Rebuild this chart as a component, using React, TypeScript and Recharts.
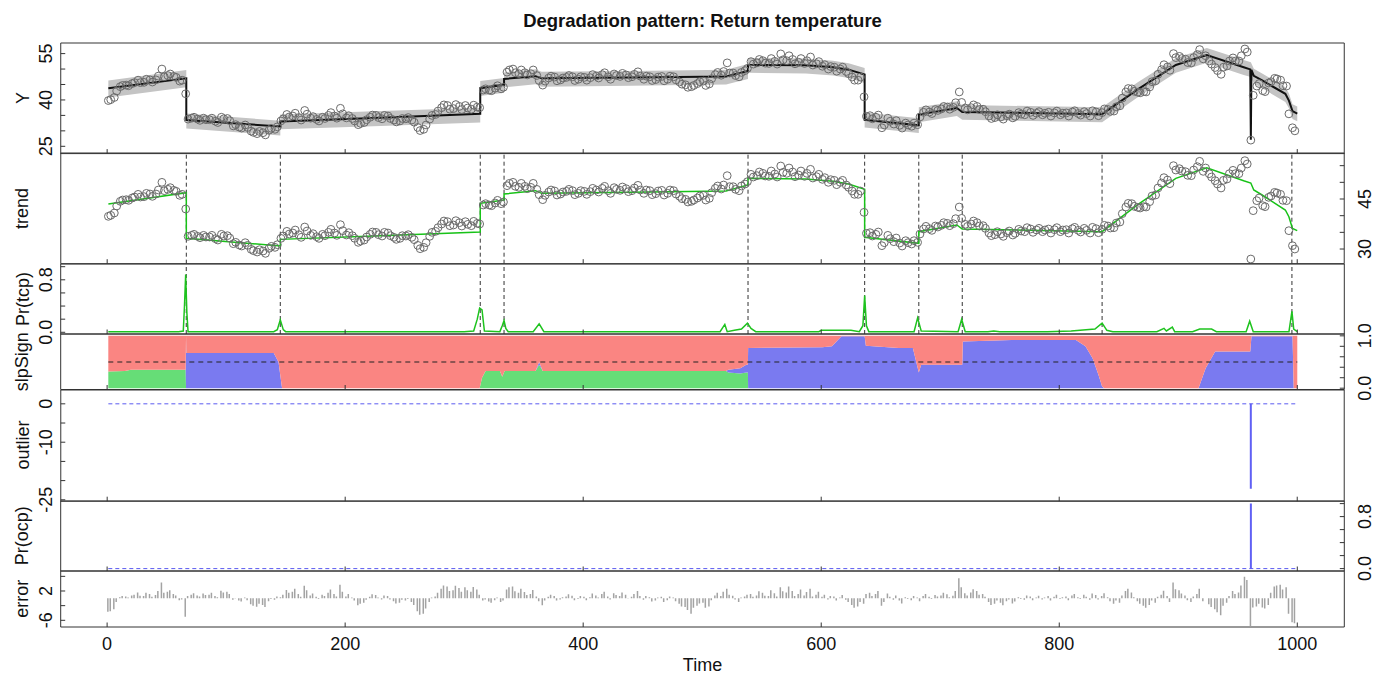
import React from 'react';
import { ComposedChart, Line, Area, Bar, Scatter, XAxis, YAxis, ReferenceLine, ReferenceArea } from 'recharts';

const FONT = '"Liberation Sans", Arial, Helvetica, sans-serif';
const W = 1384;
const H = 676;
const PLOT_L = 60.7;
const PLOT_R = 1344.3;
const X_DOMAIN: [number, number] = [-39, 1039.5];
const X_TICKS = [0, 200, 400, 600, 800, 1000];
const T_START = 1;
const T_END = 1000;

// observed series, sampled at t = 1, 6, 11, ... 996
const obsA = [
  39.8, 40.8, 44.3, 44.8, 45.3, 46.4, 45.7, 46.5, 46.5, 50.0,
  47.9, 47.6, 46.1, 42.0, 34.1, 33.8, 34.1, 33.6, 33.1, 34.4,
  34.0, 31.6, 31.2, 31.9, 29.9, 29.1, 29.4, 30.2, 30.5, 33.2,
  35.3, 34.8, 34.3, 36.6, 34.1, 33.7, 34.4, 35.0, 34.8, 37.3,
  34.2, 34.0, 32.0, 32.7, 34.4, 35.0, 33.9, 34.8, 33.5, 33.2,
  33.9, 33.5, 31.1, 30.5, 33.8, 35.3, 37.5, 38.2, 37.2, 37.9,
  38.2, 37.0, 37.7, 43.2, 43.2, 43.8, 43.6, 49.0, 50.0, 48.5,
  48.8, 48.5, 47.9, 44.8, 47.1, 47.4, 46.5, 47.3, 47.5, 46.7,
  47.3, 47.2, 47.7, 48.2, 47.5, 48.4, 47.6, 48.1, 47.5, 49.1,
  46.7, 47.5, 46.6, 47.6, 46.7, 47.5, 45.8, 44.9, 44.3, 45.3,
  46.1, 45.2, 48.2, 48.0, 52.0, 48.7, 47.5, 49.5, 52.4, 52.0,
  52.7, 51.8, 52.5, 54.9, 52.7, 53.1, 52.2, 51.8, 53.9, 51.7,
  50.9, 50.0, 50.6, 50.0, 49.2, 47.4, 46.4, 41.0, 34.9, 34.4,
  31.0, 34.1, 32.2, 31.8, 32.5, 31.5, 32.0, 36.0, 36.1, 36.9,
  37.1, 37.7, 37.6, 42.6, 37.4, 37.5, 37.9, 37.0, 34.8, 34.3,
  34.5, 34.9, 34.2, 35.9, 35.2, 36.0, 35.7, 35.2, 36.0, 35.8,
  35.2, 35.8, 36.1, 35.6, 36.2, 34.8, 36.1, 35.9, 36.9, 36.4,
  38.1, 42.6, 43.6, 42.5, 42.7, 44.2, 46.2, 49.8, 50.7, 55.0,
  54.1, 53.2, 52.0, 54.7, 53.3, 52.6, 50.5, 48.3, 51.0, 53.6,
  52.6, 56.5, 27.0, 44.5, 43.0, 45.5, 47.0, 46.4, 44.5, 31.0,
];

// observed series, sampled at t = 3, 8, 13, ... 998
const obsB = [
  40.1, 42.9, 44.7, 44.6, 45.6, 45.6, 46.7, 45.8, 47.7, 47.5,
  48.4, 47.3, 46.4, 33.8, 34.4, 33.4, 33.6, 34.1, 32.7, 33.9,
  33.3, 32.0, 30.9, 31.1, 29.5, 29.8, 28.7, 30.8, 31.3, 33.9,
  34.5, 35.7, 33.5, 35.4, 34.6, 33.2, 34.0, 35.9, 34.1, 35.5,
  34.9, 33.2, 32.4, 33.6, 35.1, 34.3, 35.0, 34.0, 32.9, 34.0,
  34.3, 32.8, 30.1, 31.9, 35.0, 36.4, 38.4, 37.0, 38.5, 36.9,
  37.4, 38.3, 37.5, 43.6, 43.0, 44.6, 44.1, 49.7, 48.8, 49.7,
  48.1, 49.7, 46.3, 46.1, 47.7, 46.2, 47.1, 47.9, 46.3, 47.5,
  46.4, 48.2, 47.1, 48.8, 46.7, 47.9, 48.6, 47.2, 48.3, 47.7,
  47.7, 46.3, 47.4, 46.2, 47.7, 46.5, 45.1, 44.1, 44.7, 45.9,
  44.7, 46.9, 48.9, 49.2, 48.7, 47.9, 48.9, 50.2, 51.6, 53.1,
  51.9, 53.4, 51.6, 53.0, 54.3, 51.7, 53.4, 52.7, 51.3, 52.4,
  51.4, 50.8, 49.3, 50.6, 48.5, 46.4, 47.4, 34.7, 33.9, 35.1,
  31.9, 33.1, 33.3, 30.9, 31.9, 32.5, 34.5, 36.8, 35.6, 36.6,
  37.9, 37.0, 39.1, 39.2, 36.8, 38.4, 36.9, 36.2, 34.0, 35.2,
  33.8, 35.4, 34.7, 35.4, 36.4, 35.0, 36.2, 35.7, 34.8, 36.4,
  35.7, 34.8, 36.5, 35.1, 35.6, 36.5, 34.9, 37.1, 36.3, 37.8,
  40.6, 43.7, 42.8, 42.3, 42.6, 45.9, 48.3, 51.4, 49.6, 53.7,
  53.4, 52.1, 53.7, 56.3, 54.3, 51.6, 49.5, 50.6, 52.6, 52.6,
  54.3, 55.5, 41.5, 45.3, 42.7, 45.9, 46.8, 44.6, 35.5, 30.0,
];

// residuals at t = 1, 6, 11, ...
const errA = [
  -3.7, -3.0, 0.3, 0.5, 0.8, 1.6, 0.6, 1.2, 0.9, 4.3,
  1.8, 1.2, -0.5, -5.0, 1.0, 0.8, 1.3, 1.0, 0.6, 2.1,
  1.8, -0.4, -0.6, 0.2, -1.6, -2.3, -1.8, -0.8, -0.4, 0.3,
  2.3, 1.8, 1.2, 3.4, 0.8, 0.4, 1.0, 1.5, 1.2, 3.7,
  0.5, 0.2, -1.9, -1.2, 0.4, 0.9, -0.3, 0.6, -0.8, -1.2,
  -0.6, -1.0, -3.5, -4.2, -1.0, 0.5, 2.6, 3.2, 2.2, 2.8,
  3.0, 1.8, 2.4, -0.6, -0.9, -0.5, -1.0, 2.4, 3.2, 1.5,
  1.7, 1.2, 0.5, -1.9, 0.4, 0.6, -0.3, 0.5, 0.7, -0.2,
  0.4, 0.3, 0.8, 1.2, 0.5, 1.4, 0.6, 1.0, 0.4, 2.0,
  -0.4, 0.3, -0.6, 0.4, -0.5, 0.2, -1.5, -2.4, -4.2, -2.0,
  -1.2, -2.2, 0.8, 0.6, 2.6, 0.7, -1.0, 0.5, 1.2, 0.8,
  1.5, 0.6, 1.4, 3.0, 1.6, 2.0, 1.2, 0.8, 2.6, 1.0,
  0.4, -0.3, 0.5, 0.2, -0.4, -1.8, -2.2, -1.5, 1.5, 1.2,
  -2.0, 1.3, -0.4, -0.6, 0.3, -0.5, 0.2, 0.6, 0.4, 0.9,
  0.8, 1.1, 0.7, 5.5, 1.4, 1.6, 2.0, 1.2, -1.0, -1.5,
  -1.2, -0.8, -1.4, 0.3, -0.4, 0.5, 0.2, -0.3, 0.6, 0.4,
  -0.2, 0.5, 0.8, 0.3, 1.0, -0.4, 0.9, 0.6, 0.3, -1.5,
  -1.2, 2.0, 1.6, -0.8, -2.0, -1.8, -1.2, 1.0, 0.6, 4.3,
  2.2, 0.8, -1.0, 1.2, -0.8, -1.6, -3.0, -4.6, -1.2, 2.0,
  1.6, 5.9, -7.6, -2.2, -2.5, -1.8, 3.2, 3.7, 3.0, -6.5,
];

// residuals at t = 3, 8, 13, ...
const errB = [
  -3.5, -1.0, 0.6, 0.2, 1.0, 0.7, 1.5, 0.4, 2.0, 1.5,
  2.2, 0.8, -0.3, 0.6, 1.4, 0.5, 0.9, 1.5, 0.3, 1.6,
  1.2, 0.1, -0.9, -0.5, -2.0, -1.5, -2.4, -0.2, 0.5, 1.0,
  1.5, 2.6, 0.4, 2.2, 1.3, -0.2, 0.6, 2.4, 0.5, 1.8,
  1.2, -0.6, -1.5, -0.4, 1.1, 0.2, 0.8, -0.3, -1.4, -0.4,
  -0.2, -1.8, -4.5, -2.8, 0.2, 1.5, 3.5, 2.0, 3.4, 1.8,
  2.2, 3.1, 1.0, -0.3, -1.2, 0.2, -0.6, 3.0, 1.9, 2.6,
  0.9, 2.3, -0.8, -0.6, 1.0, -0.6, 0.3, 1.1, -0.5, 0.6,
  -0.5, 1.3, 0.2, 1.8, -0.3, 0.9, 1.6, 0.1, 1.2, 0.6,
  0.6, -0.9, 0.2, -1.0, 0.5, -0.8, -2.2, -3.2, -2.6, -1.4,
  -2.6, -0.5, 1.5, 1.8, 1.0, -0.3, 0.2, 1.0, 0.4, 1.9,
  0.7, 2.2, 0.5, 1.9, 3.2, 0.6, 2.4, 1.7, 0.5, 1.8,
  1.0, 0.6, -0.6, 0.9, -1.0, -2.6, -1.0, 1.2, 0.6, 2.0,
  -1.0, 0.4, 0.8, -1.4, -0.2, 0.6, -0.8, 1.2, -0.2, 0.5,
  1.5, 0.3, 2.0, 3.0, 0.8, 2.5, 1.0, 0.4, -1.8, -0.6,
  -1.9, -0.3, -0.9, -0.2, 0.8, -0.5, 0.7, 0.2, -0.6, 1.0,
  0.3, -0.5, 1.2, -0.2, 0.4, 1.3, -0.3, 1.4, -0.8, -0.6,
  0.8, 2.6, 0.3, -1.5, -2.6, -0.6, 0.4, 2.1, -1.0, 2.5,
  1.3, -0.5, 0.5, 2.6, 0.0, -2.4, -3.8, -2.0, 0.6, 1.2,
  3.5, 5.0, -2.5, -1.5, -2.8, 1.5, 3.5, 2.4, -4.2, -6.8,
];

const timesA = Array.from({ length: obsA.length }, (_, i) => 1 + 5 * i);
const timesB = Array.from({ length: obsB.length }, (_, i) => 3 + 5 * i);

// fitted trend, vertices (repeated t = abrupt change)
const trendT = [1, 66.5, 66.5, 145.5, 145.5, 230, 313.5, 313.5, 333.5, 333.5, 360, 365, 440, 520, 538.5, 538.5, 587, 610, 623, 636.5, 636.5, 682, 682, 714, 718.5, 836, 866, 898, 924, 955, 961, 963.5, 970.5, 990, 993, 996, 1000];
const trendV = [43.5, 46.9, 33.2, 30.9, 32.9, 34.0, 35.1, 43.7, 44.7, 46.5, 47.5, 46.7, 47.0, 47.4, 49.2, 51.2, 51.0, 50.3, 49.5, 47.9, 33.5, 31.7, 35.2, 37.2, 36.0, 35.2, 43.3, 51.2, 54.4, 50.5, 49.8, 47.7, 46.2, 41.7, 39.7, 36.2, 35.5];
const bandLo = [40.8, 44.1, 30.8, 28.5, 30.5, 31.6, 32.7, 41.3, 42.3, 44.1, 45.1, 44.3, 44.6, 45.0, 46.8, 48.8, 48.6, 47.9, 47.1, 45.5, 31.1, 29.3, 32.8, 34.8, 33.6, 32.8, 40.9, 48.8, 52.0, 48.1, 47.4, 45.3, 43.8, 39.3, 37.3, 33.8, 33.1];
const bandHi = [46.3, 49.7, 35.6, 33.3, 35.3, 36.4, 37.5, 46.1, 47.1, 48.9, 49.9, 49.1, 49.4, 49.8, 51.6, 53.6, 53.4, 52.7, 51.9, 50.3, 35.9, 34.1, 37.6, 39.6, 38.4, 37.6, 45.7, 53.6, 56.8, 52.9, 52.2, 50.1, 48.6, 44.1, 42.1, 38.6, 37.9];

// full fit (trend + outlier)
const fittedT = [1, 66.5, 66.5, 145.5, 145.5, 230, 313.5, 313.5, 333.5, 333.5, 360, 365, 440, 520, 538.5, 538.5, 587, 610, 623, 636.5, 636.5, 682, 682, 714, 718.5, 836, 866, 898, 924, 955, 960.5, 961, 961.5, 963.5, 970.5, 990, 993, 996, 1000];
const fittedV = [43.8, 47.0, 33.5, 31.4, 33.0, 34.2, 35.5, 43.8, 44.9, 46.8, 47.7, 47.0, 47.3, 47.6, 49.4, 51.3, 51.2, 50.6, 49.8, 48.2, 33.6, 31.8, 35.3, 37.4, 36.1, 35.4, 43.4, 51.3, 54.5, 50.6, 49.9, 27.1, 49.7, 47.8, 46.3, 42.0, 39.8, 36.4, 35.6];

const changePoints = [66.5, 145.5, 313.5, 333.5, 538.5, 636.5, 682, 718.5, 836, 995.5];

// probability of a trend changepoint
const tcpT = [1, 60, 64, 65, 66, 67, 68, 140, 143, 145.5, 148, 150, 300, 308, 311, 313, 315, 317, 330, 332, 333.5, 335, 337, 358, 363, 367, 515, 519, 521, 527, 533, 538, 541, 545, 598, 600, 625, 632, 635, 636.5, 638, 640, 678, 681, 684, 715, 718, 721, 740, 745, 750, 790, 810, 830, 836, 840, 845, 882, 888, 890, 895, 897, 912, 918, 928, 932, 957, 960, 963, 993, 995.5, 997, 1000];
const tcpP = [0.01, 0.01, 0.02, 0.4, 0.88, 0.3, 0.01, 0.01, 0.04, 0.19, 0.04, 0.01, 0.01, 0.02, 0.2, 0.37, 0.34, 0.02, 0.01, 0.1, 0.18, 0.06, 0.01, 0.01, 0.13, 0.01, 0.01, 0.12, 0.01, 0.03, 0.05, 0.14, 0.06, 0.01, 0.01, 0.03, 0.03, 0.01, 0.1, 0.56, 0.1, 0.01, 0.01, 0.22, 0.02, 0.01, 0.2, 0.01, 0.01, 0.02, 0.01, 0.01, 0.02, 0.05, 0.14, 0.03, 0.01, 0.01, 0.06, 0.02, 0.08, 0.01, 0.01, 0.05, 0.05, 0.01, 0.01, 0.17, 0.01, 0.01, 0.32, 0.05, 0.01];

// slope sign probabilities: zero / negative / positive
const slpT = [1, 15, 20, 66, 66.3, 66.6, 140, 144, 147, 313, 315, 318, 330, 332, 334, 360, 363, 366, 520, 522, 532, 537, 538.4, 538.6, 601, 609, 617, 636.5, 637.5, 665, 677, 682, 684, 718.5, 719, 760, 814, 822, 828, 833, 836, 838, 917, 923, 931, 960.5, 961.5, 996, 997, 1000];
const slpZero = [0.32, 0.33, 0.35, 0.35, 0, 0, 0, 0, 0, 0, 0.2, 0.33, 0.33, 0.22, 0.33, 0.33, 0.45, 0.33, 0.33, 0.3, 0.28, 0.3, 0.3, 0, 0, 0, 0, 0, 0, 0, 0, 0, 0, 0, 0, 0, 0, 0, 0, 0, 0, 0, 0, 0, 0, 0, 0, 0, 0, 0];
const slpNeg = [0, 0, 0, 0, 1.0, 0.67, 0.67, 0.5, 0, 0, 0, 0, 0, 0, 0, 0, 0.05, 0, 0, 0.05, 0.1, 0.15, 0.15, 0.77, 0.78, 0.8, 0.99, 0.99, 0.81, 0.77, 0.77, 0.3, 0.45, 0.45, 0.89, 0.92, 0.92, 0.8, 0.57, 0.25, 0.03, 0, 0, 0.38, 0.7, 0.7, 0.99, 0.99, 0, 0];
const slpPos = [0.68, 0.67, 0.65, 0.65, 0, 0.33, 0.33, 0.5, 1, 1, 0.8, 0.67, 0.67, 0.78, 0.67, 0.67, 0.5, 0.67, 0.67, 0.65, 0.62, 0.55, 0.55, 0.23, 0.22, 0.2, 0.01, 0.01, 0.19, 0.23, 0.23, 0.7, 0.55, 0.55, 0.11, 0.08, 0.08, 0.2, 0.43, 0.75, 0.97, 1, 1, 0.62, 0.3, 0.3, 0.01, 0.01, 1, 1];

// outlier component and its probability
const outT = [961];
const outV = [-22.1];
const ocpP = [1.0];

const obsData = [
  ...timesA.map((t, i) => ({ t, v: obsA[i] })),
  ...timesB.map((t, i) => ({ t, v: obsB[i] })),
];
const errData = [
  ...timesA.map((t, i) => ({ t, v: errA[i] })),
  ...timesB.map((t, i) => ({ t, v: errB[i] })),
].sort((a, b) => a.t - b.t);
const trendData = trendT.map((t, i) => ({ t, v: trendV[i] }));
const bandData = trendT.map((t, i) => ({ t, r: [bandLo[i], bandHi[i]] }));
const fittedData = fittedT.map((t, i) => ({ t, v: fittedV[i] }));
const tcpData = tcpT.map((t, i) => ({ t, p: tcpP[i] }));
const slpData = slpT.map((t, i) => ({ t, zero: slpZero[i], neg: slpNeg[i], pos: slpPos[i] }));
const outData = outT.map((t, i) => ({ t, v: outV[i] }));
const ocpData = outT.map((t, i) => ({ t, v: ocpP[i] }));

const xTick = (withLabel: boolean) => (props: any) => {
  const { x, y, payload } = props;
  return (
    <g>
      <line x1={x} x2={x} y1={y} y2={y - 4.5} stroke="#333" strokeWidth={1} />
      {withLabel && (
        <text x={x} y={y + 23.3} textAnchor="middle" fontSize={18} fontFamily={FONT} fill="#111">
          {payload.value}
        </text>
      )}
    </g>
  );
};

const yTick = (side: 'left' | 'right', labels: number[], digits: number) => (props: any) => {
  const { x, y, payload } = props;
  const v = payload.value;
  const lx = side === 'left' ? x - 8.7 : x + 26.5;
  const dx = side === 'left' ? 4.5 : -4.5;
  return (
    <g>
      <line x1={x} x2={x + dx} y1={y} y2={y} stroke="#333" strokeWidth={1} />
      {labels.includes(v) && (
        <text x={lx} y={y} transform={`rotate(-90 ${lx} ${y})`} textAnchor="middle" fontSize={18} fontFamily={FONT} fill="#111">
          {v.toFixed(digits)}
        </text>
      )}
    </g>
  );
};

type PanelProps = {
  top: number;
  bottom: number;
  domain: [number, number];
  ticks: number[];
  labels: number[];
  digits: number;
  side: 'left' | 'right';
  data?: any[];
  showTime?: boolean;
  children?: React.ReactNode;
};

const Panel = ({ top, bottom, domain, ticks, labels, digits, side, data, showTime, children }: PanelProps) => {
  const extra = showTime ? 50 : 0;
  const h = bottom - top + 1 + extra;
  return (
    <div style={{ position: 'absolute', left: 0, top, width: W, height: h }}>
      <ComposedChart
        width={W}
        height={h}
        data={data}
        margin={{
          top: 0,
          bottom: extra,
          left: side === 'left' ? PLOT_L - 1 : PLOT_L,
          right: side === 'right' ? W - PLOT_R - 1 : W - PLOT_R,
        }}
      >
        <XAxis dataKey="t" type="number" domain={X_DOMAIN} ticks={X_TICKS} interval={0} height={1}
          tickSize={0} tickMargin={0} axisLine={false} tickLine={false} tick={xTick(!!showTime)} allowDataOverflow />
        <YAxis type="number" orientation={side} domain={domain} ticks={ticks} interval={0} width={1}
          tickSize={0} tickMargin={0} axisLine={false} tickLine={false} tick={yTick(side, labels, digits)} allowDataOverflow />
        {children}
        <ReferenceArea x1={X_DOMAIN[0]} x2={X_DOMAIN[1]} y1={domain[0]} y2={domain[1]}
          fill="none" fillOpacity={0} stroke="#333" strokeWidth={1} ifOverflow="visible" />
      </ComposedChart>
    </div>
  );
};

const circle = (props: any) => (
  <circle cx={props.cx} cy={props.cy} r={3.9} fill="none" stroke="#6a6a6a" strokeWidth={1} />
);

const axisTitles = [
  { text: 'Y', y: 98 },
  { text: 'trend', y: 208.6 },
  { text: 'Pr(tcp)', y: 299 },
  { text: 'slpSign', y: 361.7 },
  { text: 'outlier', y: 445 },
  { text: 'Pr(ocp)', y: 535.7 },
  { text: 'error', y: 598.7 },
];

export default function App() {
  return (
    <div style={{ position: 'absolute', left: 0, top: 0, width: W, height: H, background: '#fff', fontFamily: FONT }}>
      <style>{'.recharts-surface { overflow: visible; } .recharts-wrapper { overflow: visible; }'}</style>

      <Panel top={42.7} bottom={153.3} domain={[22.64, 58.43]} ticks={[25, 30, 35, 40, 45, 50, 55]} labels={[25, 40, 55]} digits={0} side="left">
        <Area data={bandData} dataKey="r" type="linear" fill="#c4c4c4" fillOpacity={1} stroke="none" isAnimationActive={false} />
        <Scatter data={obsData} dataKey="v" shape={circle} isAnimationActive={false} />
        <Line data={fittedData} dataKey="v" type="linear" stroke="#111" strokeWidth={2} dot={false} isAnimationActive={false} />
      </Panel>

      <Panel top={153.3} bottom={264} domain={[25.6, 58.8]} ticks={[30, 35, 40, 45, 50, 55]} labels={[30, 45]} digits={0} side="right">
        {changePoints.map((cp) => (
          <ReferenceLine key={cp} x={cp} stroke="#333" strokeDasharray="4 3" strokeWidth={1} />
        ))}
        <Scatter data={obsData} dataKey="v" shape={circle} isAnimationActive={false} />
        <Line data={trendData} dataKey="v" type="linear" stroke="#18c218" strokeWidth={1.5} dot={false} isAnimationActive={false} />
      </Panel>

      <Panel top={264} bottom={334} domain={[-0.026, 1.041]} ticks={[0, 0.2, 0.4, 0.6, 0.8, 1]} labels={[0, 0.8]} digits={1} side="left" data={tcpData}>
        {changePoints.map((cp) => (
          <ReferenceLine key={cp} x={cp} stroke="#333" strokeDasharray="4 3" strokeWidth={1} />
        ))}
        <Line dataKey="p" type="linear" stroke="#1ec31e" strokeWidth={1.5} dot={false} isAnimationActive={false} />
      </Panel>

      <Panel top={334} bottom={389.5} domain={[-0.025, 1.035]} ticks={[0, 0.2, 0.4, 0.6, 0.8, 1]} labels={[0, 1]} digits={1} side="right" data={slpData}>
        <Area dataKey="zero" stackId="s" type="linear" fill="#66dd77" fillOpacity={1} stroke="none" isAnimationActive={false} />
        <Area dataKey="neg" stackId="s" type="linear" fill="#7a7af0" fillOpacity={1} stroke="none" isAnimationActive={false} />
        <Area dataKey="pos" stackId="s" type="linear" fill="#fa8582" fillOpacity={1} stroke="none" isAnimationActive={false} />
        <ReferenceLine segment={[{ x: T_START, y: 0.5 }, { x: T_END, y: 0.5 }]} stroke="#222" strokeDasharray="5 4" strokeWidth={1} />
      </Panel>

      <Panel top={389.5} bottom={500.7} domain={[-25.36, 3.6]} ticks={[0, -5, -10, -15, -20, -25]} labels={[0, -10, -25]} digits={0} side="left" data={outData}>
        <ReferenceLine segment={[{ x: T_START, y: 0 }, { x: T_END, y: 0 }]} stroke="#5a5af0" strokeDasharray="4 3" strokeWidth={1} />
        <Bar dataKey="v" barSize={2} fill="#6060f4" isAnimationActive={false} />
      </Panel>

      <Panel top={500.7} bottom={570.7} domain={[-0.037, 1.04]} ticks={[0, 0.2, 0.4, 0.6, 0.8, 1]} labels={[0, 0.8]} digits={1} side="right" data={ocpData}>
        <ReferenceLine segment={[{ x: T_START, y: 0 }, { x: T_END, y: 0 }]} stroke="#5a5af0" strokeDasharray="4 3" strokeWidth={1} />
        <Bar dataKey="v" barSize={2} fill="#6060f4" isAnimationActive={false} />
      </Panel>

      <Panel top={570.7} bottom={626.7} domain={[-7.83, 7.46]} ticks={[6, 2, -2, -6]} labels={[2, -6]} digits={0} side="left" data={errData} showTime>
        <Bar dataKey="v" barSize={1.5} fill="#a3a3a3" isAnimationActive={false} />
      </Panel>

      <svg width={W} height={H} style={{ position: 'absolute', left: 0, top: 0, pointerEvents: 'none' }}>
        <text x={702.5} y={26.5} textAnchor="middle" fontSize={18.5} fontWeight="bold" fontFamily={FONT} fill="#111">
          Degradation pattern: Return temperature
        </text>
        {axisTitles.map((a) => (
          <text key={a.text} x={28.5} y={a.y} transform={`rotate(-90 28.5 ${a.y})`} textAnchor="middle" fontSize={18} fontFamily={FONT} fill="#111">
            {a.text}
          </text>
        ))}
        <text x={702.5} y={671} textAnchor="middle" fontSize={18} fontFamily={FONT} fill="#111">
          Time
        </text>
      </svg>
    </div>
  );
}
